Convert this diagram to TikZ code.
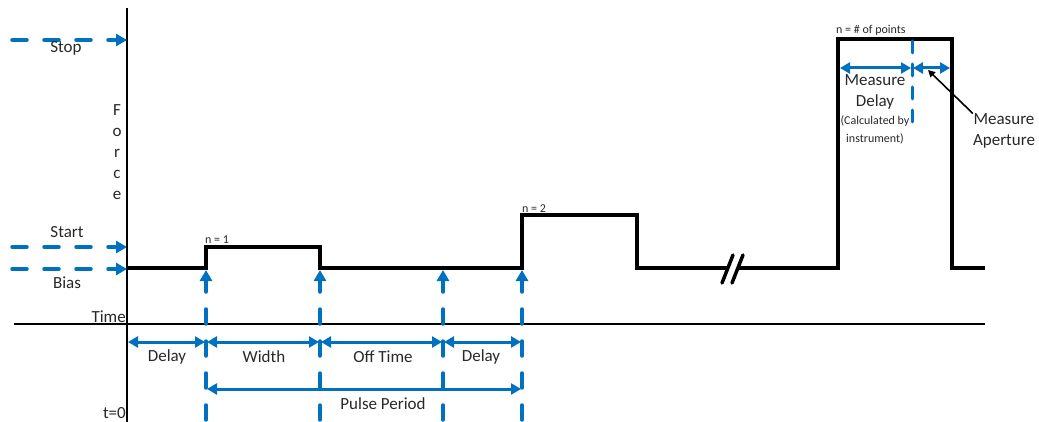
\documentclass[tikz,border=0pt]{standalone}
\usepackage{fontspec}
\setmainfont{Carlito}
\usetikzlibrary{arrows.meta, positioning, calc}
\definecolor{markblue}{RGB}{0,112,192}
\definecolor{txtgray}{RGB}{40,40,40}
\tikzset{
  axis/.style={line width=1.4pt, black},
  wave/.style={line width=4pt, black, line join=miter},
  cut/.style={line width=3.5pt, black, line cap=round},
  marker/.style={markblue, line width=3.5pt, line cap=round, dash pattern=on 15pt off 17pt, -{Triangle[length=11pt, width=12pt]}},
  splitline/.style={markblue, line width=3pt, line cap=round, dash pattern=on 12pt off 11pt},
  dim/.style={markblue, line width=3pt, {Triangle[length=10pt, width=11pt]}-{Triangle[length=10pt, width=11pt]}},
  pointer/.style={black, line width=1.6pt, -{Triangle[length=7pt, width=7pt]}},
  lbl/.style={font=\fontsize{17}{21}\selectfont, text=txtgray, inner sep=0pt, align=center},
  tiny/.style={font=\fontsize{12}{18}\selectfont, text=txtgray, inner sep=0pt, align=center},
}
\begin{document}
\begin{tikzpicture}[x=1pt, y=-1pt]
  \useasboundingbox (0,0) rectangle (1039,422);

  % Axes
  \coordinate (ytop) at (127,8);
  \coordinate (ybot) at (127,422);
  \coordinate (tleft) at (14,324);
  \coordinate (tright) at (985,324);
  \draw[axis] (ytop) -- (ybot);
  \draw[axis] (tleft) -- (tright);

  \node[lbl] (forcelbl) at (117,152) {F\\o\\r\\c\\e};
  \node[lbl, anchor=south east] (timelbl) at (126,323) {Time};
  \node[lbl, anchor=south east] (t0lbl) at (126,419) {t=0};

  % Levels on the force axis
  \coordinate (stopL) at (12,40);
  \coordinate (stopR) at (127,40);
  \coordinate (startL) at (12,247);
  \coordinate (startR) at (127,247);
  \coordinate (biasL) at (12,269);
  \coordinate (biasR) at (127,269);
  \draw[marker] (stopL) -- (stopR);
  \draw[marker] (startL) -- (startR);
  \draw[marker] (biasL) -- (biasR);
  \node[lbl] (stoplbl) at (66,48) {Stop};
  \node[lbl] (startlbl) at (67,232) {Start};
  \node[lbl] (biaslbl) at (67,283) {Bias};

  % Pulse train
  \draw[wave] (127,268) -- (206,268) -- (206,247) -- (320,247) -- (320,268)
    -- (522,268) -- (522,215) -- (637,215) -- (637,268) -- (727,268);
  \draw[wave] (738,268) -- (838,268) -- (838,39) -- (952,39) -- (952,268) -- (985,268);
  \draw[cut] (722,283) -- (733,255);
  \draw[cut] (732,283) -- (743,255);

  \node[tiny, anchor=south west] (n1lbl) at (205,244) {n = 1};
  \node[tiny, anchor=south west] (n2lbl) at (522,213) {n = 2};
  \node[tiny, anchor=south west] (nplbl) at (836,36) {n = \# of points};

  % Time markers
  \foreach \tx [count=\i] in {206,320,443,522} {
    \coordinate (mtop\i) at (\tx,270);
    \coordinate (mbot\i) at (\tx,420);
    \draw[marker] (mbot\i) -- (mtop\i);
  }

  % Dimension arrows
  \draw[dim] ($(biasR|-0,342)+(1,0)$) -- ($(mtop1|-0,342)+(-1,0)$);
  \draw[dim] ($(mtop1|-0,342)+(1,0)$) -- ($(mtop2|-0,342)+(-1,0)$);
  \draw[dim] ($(mtop2|-0,342)+(1,0)$) -- ($(mtop3|-0,342)+(-1,0)$);
  \draw[dim] ($(mtop3|-0,342)+(1,0)$) -- ($(mtop4|-0,342)+(-1,0)$);
  \draw[dim] ($(mtop1|-0,389)+(1,0)$) -- ($(mtop4|-0,389)+(-1,0)$);
  \node[lbl] (delay1) at (167,357) {Delay};
  \node[lbl] (width) at (264,357) {Width};
  \node[lbl] (offtime) at (383,357) {Off Time};
  \node[lbl] (delay2) at (481,357) {Delay};
  \node[lbl] (period) at (383,404) {Pulse Period};

  % Measurement window
  \coordinate (mstart) at (840,68);
  \coordinate (msplit) at (912,68);
  \coordinate (mend) at (950,68);
  \draw[splitline] (912,41) -- (912,126);
  \draw[dim] (mstart) -- ($(msplit)+(-1,0)$);
  \draw[dim] ($(msplit)+(1,0)$) -- (mend);
  \node[lbl] (mdelay) at (875,92) {Measure\\Delay};
  \node[tiny] (calc) at (875,130) {(Calculated by\\instrument)};
  \node[lbl] (aplbl) at (1004,131) {Measure\\Aperture};
  \coordinate (aptip) at (928,70);
  \draw[pointer] (aplbl.north west) -- (aptip);
\end{tikzpicture}
\end{document}
